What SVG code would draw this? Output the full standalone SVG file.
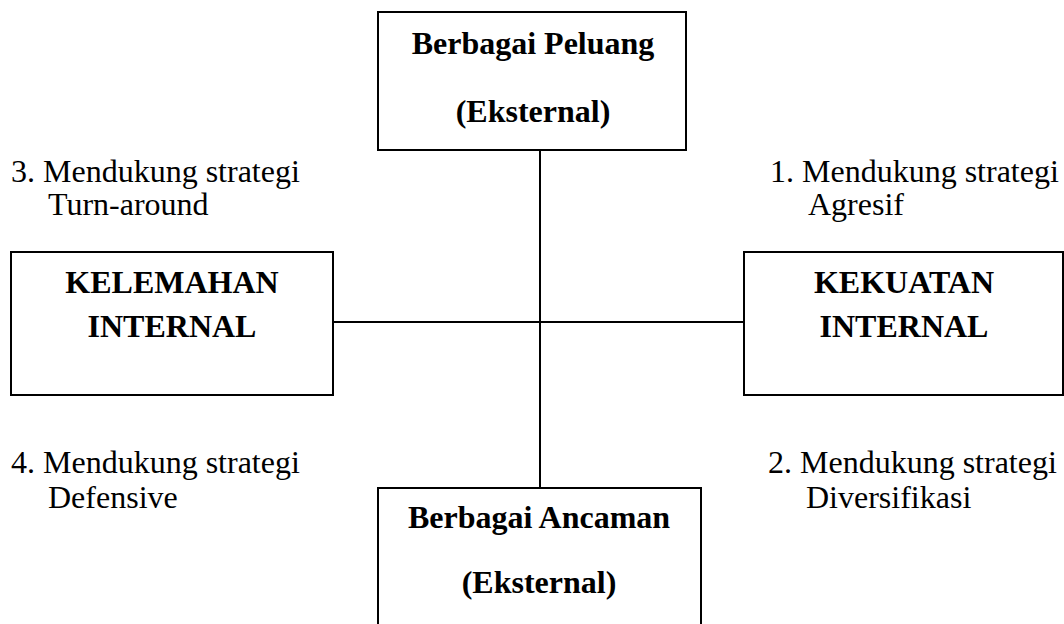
<svg xmlns="http://www.w3.org/2000/svg" width="1064" height="624" viewBox="0 0 1064 624">
<style>
.box{fill:#fff;stroke:#000;stroke-width:2}
.t{font-family:"Liberation Serif","Times New Roman",serif;font-size:32px;fill:#000}
.b{font-weight:bold;text-anchor:middle}
.conn{stroke:#000;stroke-width:2;fill:none}
</style>
<rect width="1064" height="624" fill="#fff"/>
<g id="connectors">
<line class="conn" x1="540" y1="150" x2="540" y2="488"/>
<line class="conn" x1="333" y1="322" x2="744" y2="322"/>
</g>
<g id="peluang">
<rect class="box" x="378" y="12" width="308" height="138"/>
<text class="t b" x="533" y="54">Berbagai Peluang</text>
<text class="t b" x="533" y="122">(Eksternal)</text>
</g>
<g id="kelemahan">
<rect class="box" x="11" y="252" width="322" height="143"/>
<text class="t b" x="172" y="293">KELEMAHAN</text>
<text class="t b" x="172" y="337">INTERNAL</text>
</g>
<g id="kekuatan">
<rect class="box" x="744" y="252" width="319" height="143"/>
<text class="t b" x="904" y="293">KEKUATAN</text>
<text class="t b" x="904" y="337">INTERNAL</text>
</g>
<g id="ancaman">
<rect class="box" x="378" y="488" width="323" height="150"/>
<text class="t b" x="539" y="528">Berbagai Ancaman</text>
<text class="t b" x="539" y="593">(Eksternal)</text>
</g>
<g id="label3">
<text class="t" x="11" y="182">3. Mendukung strategi</text>
<text class="t" x="48" y="215">Turn-around</text>
</g>
<g id="label1">
<text class="t" x="770" y="182">1. Mendukung strategi</text>
<text class="t" x="808" y="215">Agresif</text>
</g>
<g id="label4">
<text class="t" x="11" y="473">4. Mendukung strategi</text>
<text class="t" x="48" y="508">Defensive</text>
</g>
<g id="label2">
<text class="t" x="768" y="473">2. Mendukung strategi</text>
<text class="t" x="806" y="508">Diversifikasi</text>
</g>
</svg>
